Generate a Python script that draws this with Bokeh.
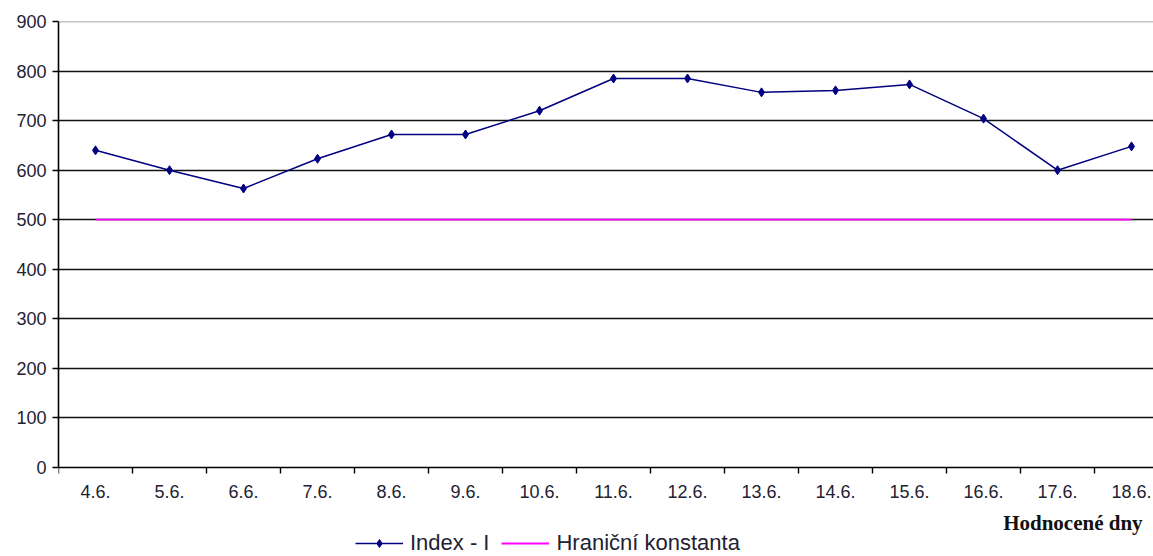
from bokeh.plotting import figure
from bokeh.models import (FixedTicker, Range1d, Span, Legend, LegendItem, Label,
                          ColumnDataSource)
from bokeh.embed import file_html
from bokeh.resources import INLINE

# Evaluated days and the measured index
days = ["4.6.", "5.6.", "6.6.", "7.6.", "8.6.", "9.6.", "10.6.", "11.6.",
        "12.6.", "13.6.", "14.6.", "15.6.", "16.6.", "17.6.", "18.6."]
index_i = [640, 600, 563, 623, 672, 672, 720, 785, 785, 757, 761, 773, 704, 600, 648]
limit_const = [500] * len(days)
y_ticks = [0, 100, 200, 300, 400, 500, 600, 700, 800, 900]

xs = list(range(len(days)))
src = ColumnDataSource(dict(x=xs, day=days, idx=index_i, lim=limit_const))

FONT = "Liberation Sans"

# the frame runs down to the page bottom; the value axis starts at 0 and the
# category axis is pinned there, leaving room underneath for title and legend
p = figure(width=1153, height=556, output_backend="svg", toolbar_location=None,
           x_range=Range1d(-0.5, 14.297), y_range=Range1d(-179.6, 900),
           min_border_left=58, min_border_right=0, min_border_top=21,
           min_border_bottom=0)
p.outline_line_color = None
p.background_fill_color = "white"
p.border_fill_color = "white"

# horizontal grid (top line drawn separately in grey)
p.xgrid.visible = False
p.ygrid.ticker = FixedTicker(ticks=y_ticks[1:-1])
p.ygrid.grid_line_color = "#111111"
p.ygrid.grid_line_width = 1.4
p.add_layout(Span(location=y_ticks[-1], dimension="width",
                  line_color="#8a8a8a", line_width=1.6))

# y axis
p.yaxis.ticker = FixedTicker(ticks=y_ticks)
p.yaxis.bounds = (0, 900)
p.yaxis.axis_line_color = "black"
p.yaxis.axis_line_width = 1.6
p.yaxis.major_tick_line_color = "black"
p.yaxis.major_tick_line_width = 1.4
p.yaxis.major_tick_out = 6
p.yaxis.major_tick_in = 0
p.yaxis.minor_tick_line_color = None
p.yaxis.major_label_standoff = 6
p.yaxis.major_label_text_font = FONT
p.yaxis.major_label_text_font_size = "18px"
p.yaxis.major_label_text_color = "#222233"

# x axis at value 0: labels at day centres, tick marks between days
boundaries = [i - 0.5 for i in range(len(days) + 1)]
p.xaxis.fixed_location = 0
p.xaxis.ticker = FixedTicker(ticks=xs, minor_ticks=boundaries)
p.xaxis.major_label_overrides = {i: d for i, d in enumerate(days)}
p.xaxis.axis_line_color = "black"
p.xaxis.axis_line_width = 1.6
p.xaxis.major_tick_line_color = None
p.xaxis.major_tick_out = 6
p.xaxis.minor_tick_line_color = "black"
p.xaxis.minor_tick_line_width = 1.4
p.xaxis.minor_tick_out = 6
p.xaxis.minor_tick_in = 0
p.xaxis.major_label_standoff = 12
p.xaxis.major_label_text_font = FONT
p.xaxis.major_label_text_font_size = "18px"
p.xaxis.major_label_text_color = "#222233"

# series
r_lim = p.line("x", "lim", source=src, line_color="#FF00FF", line_width=1.8)
r_idx = p.line("x", "idx", source=src, line_color="#000080", line_width=1.5)
r_pts = p.scatter("x", "idx", source=src, marker="diamond", size=9,
                  fill_color="#000080", line_color="#000080")

# axis title, right aligned below the tick labels
p.add_layout(Label(x=14.15, y=-111, text="Hodnocené dny", text_align="right",
                   text_baseline="middle", text_font="Liberation Serif",
                   text_font_style="bold", text_font_size="21px",
                   text_color="#111111"))

legend = Legend(items=[LegendItem(label="Index - I", renderers=[r_idx, r_pts]),
                       LegendItem(label="Hraniční konstanta", renderers=[r_lim])],
                orientation="horizontal", location=(297, 0),
                glyph_width=48, glyph_height=20, label_standoff=7, spacing=12,
                label_text_font=FONT, label_text_font_size="22px",
                label_text_color="#222233", border_line_color=None,
                background_fill_alpha=0, padding=0, margin=0)
p.add_layout(legend, "center")

open("out.html", "w").write(file_html(p, INLINE))
